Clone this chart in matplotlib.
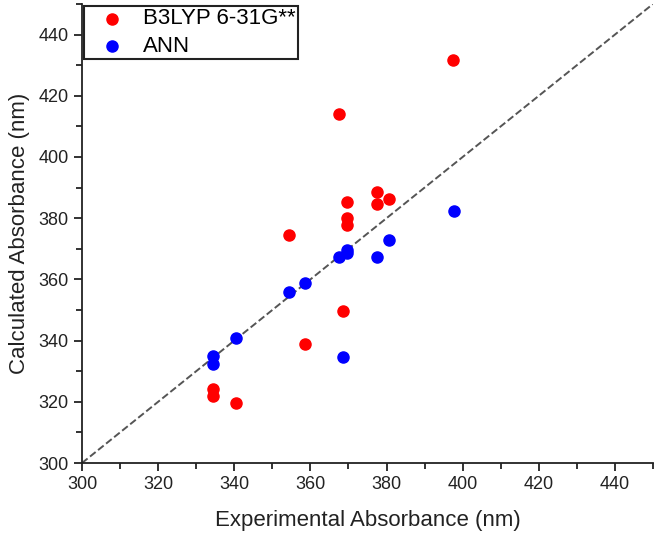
import matplotlib
matplotlib.use("Agg")
import matplotlib.pyplot as plt
from matplotlib.ticker import MultipleLocator

plt.rcParams['font.family'] = ['Liberation Sans', 'DejaVu Sans']

# experimental vs calculated absorbance (nm)
dft_exp = [397.5, 367.5, 369.5, 377.5, 377.5, 380.6, 369.5, 369.5,
           354.5, 368.5, 358.5, 334.5, 334.5, 340.5]
dft_calc = [431.6, 414.0, 385.2, 388.5, 384.6, 386.3, 380.2, 377.8,
            374.4, 349.8, 338.9, 324.1, 321.9, 319.7]

ann_exp = [397.6, 380.6, 377.6, 369.5, 369.5, 367.5, 358.5, 354.5,
           340.5, 334.5, 334.5, 368.5]
ann_calc = [382.4, 373.0, 367.4, 369.5, 368.5, 367.4, 358.9, 356.0,
            341.0, 334.9, 332.4, 334.5]

lims = [300, 450]

fig = plt.figure(figsize=(6.58, 5.38), dpi=100)
ax = fig.add_axes([0.1246, 0.1394, 0.8678, 0.8532])

ax.plot(lims, lims, linestyle='--', color='#555555', linewidth=1.4, zorder=1)
ax.scatter(dft_exp, dft_calc, s=64, color='#ff0000', label='B3LYP 6-31G**', zorder=3)
ax.scatter(ann_exp, ann_calc, s=64, color='#0000ff', label='ANN', zorder=3)

ax.set_xlim(lims)
ax.set_ylim(lims)
ax.xaxis.set_major_locator(MultipleLocator(20))
ax.xaxis.set_minor_locator(MultipleLocator(10))
ax.yaxis.set_major_locator(MultipleLocator(20))
ax.yaxis.set_minor_locator(MultipleLocator(10))

for side in ['top', 'right']:
    ax.spines[side].set_visible(False)
for side in ['left', 'bottom']:
    ax.spines[side].set_linewidth(1.3)
    ax.spines[side].set_color('#222222')

ax.tick_params(which='major', direction='out', length=6, width=1.3,
               labelsize=13, colors='#222222')
ax.tick_params(which='minor', direction='out', length=4, width=1.3, colors='#222222')

ax.set_xlabel('Experimental Absorbance (nm)', fontsize=16, color='#222222', labelpad=12)
ax.set_ylabel('Calculated Absorbance (nm)', fontsize=16, color='#222222', labelpad=6)

leg = ax.legend(loc='upper left', bbox_to_anchor=(0, 1), borderaxespad=0.1,
                fontsize=16, fancybox=False, edgecolor='#222222',
                framealpha=1, handletextpad=0.25, borderpad=0.1,
                labelspacing=0.28, handlelength=2.3, markerscale=1.0)
leg.get_frame().set_linewidth(1.5)

fig.savefig('out.png', dpi=100)
